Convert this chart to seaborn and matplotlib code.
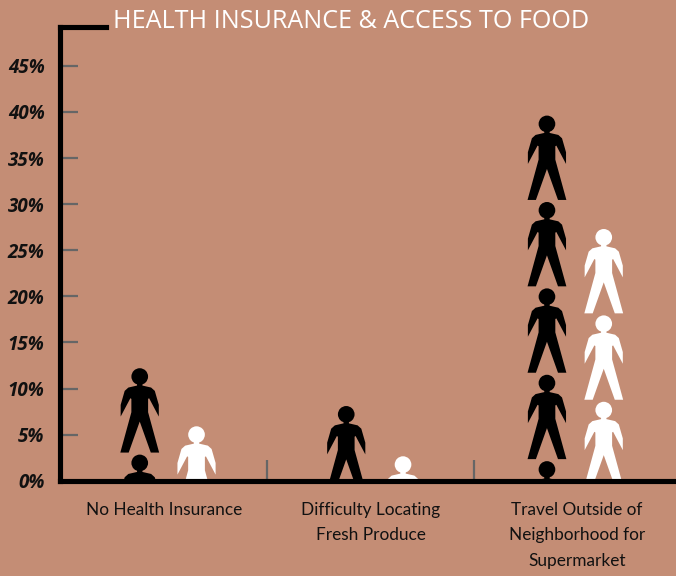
import numpy as np
import pandas as pd
import seaborn as sns
import matplotlib
matplotlib.use("Agg")
import matplotlib.pyplot as plt
from matplotlib.path import Path
from matplotlib.patches import PathPatch
from matplotlib.transforms import Affine2D

categories = ["No Health Insurance",
              "Difficulty Locating\nFresh Produce",
              "Travel Outside of\nNeighborhood for\nSupermarket"]
group_a = [12.2, 8.1, 39.6]
group_b = [5.9, 2.65, 27.3]
y_ticks = [0, 5, 10, 15, 20, 25, 30, 35, 40, 45]
title_text = "HEALTH INSURANCE & ACCESS TO FOOD"

BG = "#C48D75"
TICK_GREY = "#666666"
ICON_HEIGHT = 9.15    # one figure, in percentage points
ICON_PERIOD = 9.37    # vertical repeat of the stacked figures
ICON_SCALE = 0.188    # figure width in category units
COLUMN_NUDGE = [0.02, 0.02, -0.008]
CAT_PX = 206.5
CAT0_PX = 164.0


def person_path():
    """Standing figure, x centred on 0 with width 1, y from 0 (head top) to -1 (feet)."""
    half = [(8, 40), (8, 52), (34, 58), (45, 68), (57, 110), (57, 145), (28, 90),
            (25, 92), (25, 132), (58, 253), (33, 253), (0, 160)]
    left = [(-x, y) for x, y in reversed(half[:-1])]
    pts = np.array(half + left, dtype=float)
    pts[:, 0] /= 116.0
    pts[:, 1] /= -253.0
    body = Path(np.vstack([pts, pts[0]]), closed=True)
    head = Path.circle((0.0, 0.0), 1.0)
    return body, head


sns.set_theme(style="ticks", rc={"figure.facecolor": BG, "axes.facecolor": BG})
plt.rcParams["font.family"] = ["Lato", "DejaVu Sans"]

fig = plt.figure(figsize=(6.76, 5.76), dpi=100)
W, H = 676.0, 576.0
ax = fig.add_axes([59.8 / W, (H - 480.7) / H, (W - 59.8) / W, (480.7 - 26.8) / H])

df = pd.DataFrame({
    "category": categories * 2,
    "group": ["a"] * 3 + ["b"] * 3,
    "value": group_a + group_b,
})
sns.barplot(data=df, x="category", y="value", hue="group",
            hue_order=["a", "b"], palette=["black", "white"],
            width=0.55, gap=0, legend=False, ax=ax, errorbar=None)

ax.set_xlim((59.8 - CAT0_PX) / CAT_PX, (676 - CAT0_PX) / CAT_PX)
ax.set_ylim(0, (480.7 - 26.8) / 9.22)

# Each bar is replaced by a column of figures hanging from the bar's top
px_x = 1.0 / CAT_PX
px_y = 1.0 / 9.22
body, head = person_path()
head_r_px = 25 / 3
for container, color in zip(ax.containers, ["black", "white"]):
    for i, bar in enumerate(container):
        cx = bar.get_x() + bar.get_width() / 2 + COLUMN_NUDGE[i]
        top = bar.get_height()
        bar.set_visible(False)
        n = int(np.ceil(top / ICON_PERIOD))
        for k in range(n):
            y = top - k * ICON_PERIOD
            tf_body = Affine2D().scale(ICON_SCALE, ICON_HEIGHT).translate(cx, y) + ax.transData
            ax.add_patch(PathPatch(body, transform=tf_body, fc=color, ec="none", zorder=3))
            tf_head = (Affine2D().scale(head_r_px * px_x, head_r_px * px_y)
                       .translate(cx, y - head_r_px * px_y)
                       + ax.transData)
            ax.add_patch(PathPatch(head, transform=tf_head, fc=color, ec="none", zorder=3))

# Axis frame: heavy left and bottom lines, a short stub along the top
for side in ["left", "bottom", "top"]:
    ax.spines[side].set_visible(True)
    ax.spines[side].set_linewidth(3.7)
    ax.spines[side].set_color("black")
    ax.spines[side].set_zorder(5)
ax.spines["right"].set_visible(False)
ax.spines["top"].set_bounds((59.8 - CAT0_PX) / CAT_PX, (106 - CAT0_PX) / CAT_PX)

ax.set_xlabel("")
ax.set_ylabel("")
ax.set_yticks(y_ticks)
ax.set_yticklabels([f"{v}%" for v in y_ticks], fontfamily="Open Sans",
                   fontweight="bold", fontstyle="italic", fontsize=13.5, color="#111111")
ax.tick_params(axis="y", direction="in", length=13, width=1.6, color=TICK_GREY, pad=11)
ax.set_xticks(range(3))
ax.set_xticklabels(categories, fontfamily="Lato",
                   fontsize=12.4, color="#111111", linespacing=1.76)
ax.tick_params(axis="x", which="major", length=0, pad=15)
ax.set_xticks([0.5, 1.5], minor=True)
ax.tick_params(axis="x", which="minor", direction="in", length=15, width=1.6, color=TICK_GREY)

fig.text(351.5 / W, (H - 21) / H, title_text, color="white", ha="center", va="center",
         fontfamily="Open Sans", fontsize=18.1)

fig.savefig("out.png", dpi=100, facecolor=BG)
